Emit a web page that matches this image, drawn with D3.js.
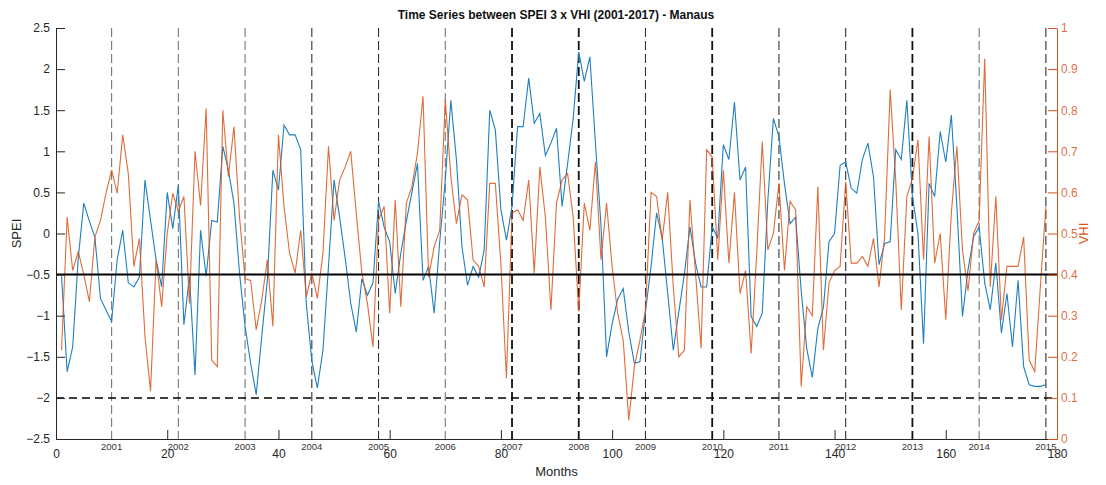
<!DOCTYPE html>
<html lang="en">
<head>
<meta charset="UTF-8">
<title>Time Series between SPEI 3 x VHI - Manaus</title>
<script src="https://d3js.org/d3.v7.min.js"></script>
<style>
    body { margin: 0; background: #fff; font-family: "Liberation Sans", Arial, sans-serif; }
    .tick-label { font-size: 12px; fill: #262626; }
    .year-label { font-size: 9.5px; fill: #333; }
</style>
</head>
<body>
<div id="chart"></div>
<script>
// SPEI 3 (left axis), months 1..178
const spei = [
    -0.52, -1.68, -1.38, -0.3, 0.37, 0.15, -0.05, -0.79, -0.93, -1.07,
    -0.32, 0.04, -0.6, -0.65, -0.53, 0.65, 0.16, -0.32, -0.65, 0.5,
    0.06, 0.59, -1.11, -0.52, -1.72, 0.04, -0.52, 0.16, 0.14, 1.06,
    0.77, 0.37, -0.48, -1.13, -1.58, -1.96, -1.25, -0.57, 0.77, 0.53,
    1.32, 1.2, 1.2, 1.02, -0.85, -1.55, -1.88, -1.42, -0.4, 0.65,
    0.2, -0.3, -0.85, -1.2, -0.55, -0.75, -0.6, 0.39, 0.08, -0.1,
    -0.73, -0.24, 0.15, 0.5, 0.85, -0.57, -0.4, -0.97, -0.1, 0.65,
    1.62, 0.9, -0.16, -0.63, -0.4, -0.53, -0.2, 1.5, 1.26, 0.29,
    -0.08, 0.33, 1.3, 1.3, 1.89, 1.34, 1.46, 0.95, 1.1, 1.28,
    0.33, 0.85, 1.4, 2.21, 1.85, 2.15, 1.1, 0.1, -1.5, -1.1,
    -0.8, -0.67, -1.2, -1.58, -1.56, -0.95, -0.4, 0.25, -0.05, -0.73,
    -1.42, -0.95, -0.49, 0.08, -0.36, -0.65, -0.65, 0.08, -0.05, 1.08,
    0.9, 1.6, 0.65, 0.81, -1.01, -1.13, -0.97, 0.4, 1.4, 1.18,
    0.6, 0.12, 0.2, -0.7, -1.4, -1.75, -1.15, -0.9, -0.1, 0.0,
    0.83, 0.87, 0.55, 0.49, 0.9, 1.1, 0.69, -0.38, -0.12, -0.1,
    1.02, 0.9, 1.62, 0.45, 0.0, -1.34, 0.61, 0.45, 1.24, 0.87,
    1.44, 0.33, -1.01, -0.44, -0.04, 0.08, -0.6, -0.93, -0.36, -1.21,
    -0.73, -1.38, -0.57, -1.62, -1.84, -1.86, -1.86, -1.84
];

// VHI (right axis), months 1..178
const vhi = [
    0.216, 0.54, 0.41, 0.456, 0.40, 0.334, 0.492, 0.532, 0.598, 0.654,
    0.598, 0.74, 0.646, 0.42, 0.488, 0.25, 0.116, 0.436, 0.322, 0.5,
    0.598, 0.554, 0.59, 0.33, 0.7, 0.568, 0.804, 0.192, 0.176, 0.8,
    0.638, 0.76, 0.54, 0.39, 0.386, 0.266, 0.338, 0.436, 0.274, 0.74,
    0.566, 0.452, 0.404, 0.508, 0.346, 0.404, 0.342, 0.452, 0.712, 0.532,
    0.63, 0.662, 0.7, 0.548, 0.404, 0.33, 0.224, 0.532, 0.566, 0.306,
    0.582, 0.322, 0.574, 0.614, 0.696, 0.834, 0.394, 0.468, 0.508, 0.826,
    0.638, 0.524, 0.594, 0.582, 0.436, 0.42, 0.37, 0.622, 0.622, 0.426,
    0.148, 0.55, 0.558, 0.532, 0.63, 0.404, 0.662, 0.54, 0.314, 0.574,
    0.63, 0.646, 0.54, 0.31, 0.574, 0.508, 0.674, 0.436, 0.574, 0.42,
    0.306, 0.24, 0.046, 0.176, 0.24, 0.314, 0.6, 0.59, 0.484, 0.6,
    0.37, 0.2, 0.216, 0.582, 0.404, 0.22, 0.704, 0.686, 0.436, 0.654,
    0.428, 0.6, 0.354, 0.41, 0.208, 0.452, 0.724, 0.46, 0.5, 0.622,
    0.41, 0.578, 0.558, 0.128, 0.322, 0.3, 0.614, 0.216, 0.38, 0.41,
    0.42, 0.626, 0.428, 0.428, 0.444, 0.42, 0.488, 0.37, 0.492, 0.85,
    0.63, 0.314, 0.59, 0.634, 0.728, 0.436, 0.736, 0.428, 0.5, 0.29,
    0.55, 0.712, 0.46, 0.36, 0.5, 0.532, 0.926, 0.37, 0.59, 0.29,
    0.42, 0.42, 0.42, 0.492, 0.192, 0.164, 0.37, 0.566
];

// year markers (month index where each year starts)
const years = [2001, 2002, 2003, 2004, 2005, 2006, 2007, 2008, 2009, 2010, 2011, 2012, 2013, 2014, 2015];
const yearMonths = [10, 22, 34, 46, 58, 70, 82, 94, 106, 118, 130, 142, 154, 166, 178];

const monthTicks = [0, 20, 40, 60, 80, 100, 120, 140, 160, 180];
const speiTicks = [-2.5, -2, -1.5, -1, -0.5, 0, 0.5, 1, 1.5, 2, 2.5];
const vhiTicks = [0, 0.1, 0.2, 0.3, 0.4, 0.5, 0.6, 0.7, 0.8, 0.9, 1];

const speiThreshold = -0.5;
const speiExtreme = -2;

const W = 1106, H = 485;
const margin = { top: 28, right: 49, bottom: 46, left: 56 };
const innerW = W - margin.left - margin.right,
      innerH = H - margin.top - margin.bottom;

const blue = "#1f7fc0", orange = "#d95319", axisCol = "#262626";
const boldYears = new Set([2007, 2008, 2010, 2013]);
const greyYears = new Set([2001, 2002, 2003, 2006, 2014]);

const svg = d3.select("#chart").append("svg")
    .attr("width", W)
    .attr("height", H);

const g = svg.append("g")
    .attr("transform", `translate(${margin.left},${margin.top})`);

const x = d3.scaleLinear().domain([0, 180]).range([0, innerW]);
const yL = d3.scaleLinear().domain([-2.5, 2.5]).range([innerH, 0]);
const yR = d3.scaleLinear().domain([0, 1]).range([innerH, 0]);

// year dashed lines
g.selectAll(".year-line")
    .data(yearMonths)
    .enter().append("line")
    .attr("class", "year-line")
    .attr("x1", d => x(d)).attr("x2", d => x(d))
    .attr("y1", 0).attr("y2", innerH)
    .attr("stroke", (d, i) => boldYears.has(years[i]) ? "#111" : greyYears.has(years[i]) ? "#777" : "#333")
    .attr("stroke-width", (d, i) => boldYears.has(years[i]) ? 1.8 : 1.1)
    .attr("stroke-dasharray", "9,4");

// series
const lineL = d3.line().x((d, i) => x(i + 1)).y(d => yL(d));
const lineR = d3.line().x((d, i) => x(i + 1)).y(d => yR(d));

g.append("path")
    .datum(spei)
    .attr("d", lineL)
    .attr("fill", "none")
    .attr("stroke", blue)
    .attr("stroke-width", 1.1);

g.append("path")
    .datum(vhi)
    .attr("d", lineR)
    .attr("fill", "none")
    .attr("stroke", orange)
    .attr("stroke-opacity", 0.85)
    .attr("stroke-width", 1.1);

// threshold lines
g.append("line")
    .attr("x1", 0).attr("x2", innerW)
    .attr("y1", yL(speiThreshold)).attr("y2", yL(speiThreshold))
    .attr("stroke", "#000").attr("stroke-width", 2);

g.append("line")
    .attr("x1", 0).attr("x2", innerW)
    .attr("y1", yL(speiExtreme)).attr("y2", yL(speiExtreme))
    .attr("stroke", "#000").attr("stroke-width", 1.5)
    .attr("stroke-dasharray", "8,5");

// axes
const xAxis = g.append("g")
    .attr("transform", `translate(0,${innerH})`)
    .call(d3.axisBottom(x).tickValues(monthTicks).tickSizeInner(-9).tickSizeOuter(0).tickPadding(10));
xAxis.select(".domain").attr("stroke", axisCol);
xAxis.selectAll(".tick line").attr("stroke", axisCol);
xAxis.selectAll("text").attr("class", "tick-label").attr("font-family", null).attr("font-size", null).attr("fill", null);

const leftAxis = g.append("g")
    .call(d3.axisLeft(yL).tickValues(speiTicks).tickFormat(d3.format("")).tickSizeInner(-9).tickSizeOuter(0).tickPadding(6));
leftAxis.select(".domain").attr("stroke", axisCol);
leftAxis.selectAll(".tick line").attr("stroke", axisCol);
leftAxis.selectAll("text").attr("class", "tick-label").attr("font-family", null).attr("font-size", null).attr("fill", null);

const rightAxis = g.append("g")
    .attr("transform", `translate(${innerW},0)`)
    .call(d3.axisRight(yR).tickValues(vhiTicks).tickFormat(d3.format("")).tickSizeInner(-9).tickSizeOuter(0).tickPadding(4));
rightAxis.select(".domain").attr("stroke", orange);
rightAxis.selectAll(".tick line").attr("stroke", orange);
rightAxis.selectAll("text")
    .attr("font-family", null).attr("font-size", 12).attr("fill", orange).attr("fill-opacity", 0.85);

// year labels under the axis
g.selectAll(".year-label")
    .data(years)
    .enter().append("text")
    .attr("class", "year-label")
    .attr("x", (d, i) => x(yearMonths[i]))
    .attr("y", innerH + 11)
    .attr("text-anchor", "middle")
    .text(d => d);

// titles
svg.append("text")
    .attr("x", 556).attr("y", 19)
    .attr("text-anchor", "middle")
    .attr("font-size", 12).attr("font-weight", "bold").attr("fill", "#111")
    .text("Time Series between SPEI 3 x VHI (2001-2017) - Manaus");

svg.append("text")
    .attr("x", margin.left + innerW / 2).attr("y", 476)
    .attr("text-anchor", "middle")
    .attr("font-size", 13).attr("fill", axisCol)
    .text("Months");

svg.append("text")
    .attr("transform", `translate(21,${margin.top + innerH / 2}) rotate(-90)`)
    .attr("text-anchor", "middle")
    .attr("font-size", 13).attr("fill", axisCol)
    .text("SPEI");

svg.append("text")
    .attr("transform", `translate(1088,${margin.top + innerH / 2}) rotate(-90)`)
    .attr("text-anchor", "middle")
    .attr("font-size", 13).attr("fill", orange)
    .text("VHI");
</script>
</body>
</html>
